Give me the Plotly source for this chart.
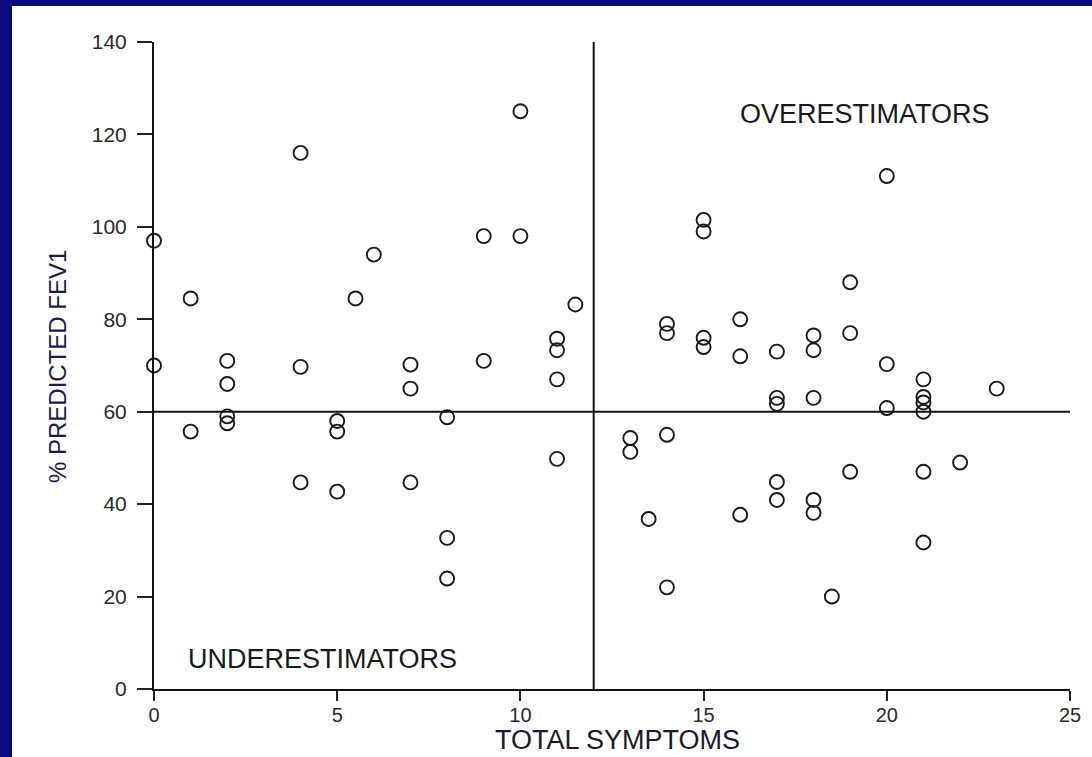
import plotly.graph_objects as go

# Data
total_symptoms = [
    0, 0,
    1, 1,
    2, 2, 2, 2,
    4, 4, 4,
    5, 5, 5,
    5.5,
    6,
    7, 7, 7,
    8, 8, 8,
    9, 9,
    10, 10,
    11, 11, 11, 11,
    11.5,
    13, 13,
    13.5,
    14, 14, 14, 14,
    15, 15, 15, 15,
    16, 16, 16,
    17, 17, 17, 17, 17,
    18, 18, 18, 18, 18,
    18.5,
    19, 19, 19,
    20, 20, 20,
    21, 21, 21, 21, 21, 21,
    22,
    23,
]
pct_predicted_fev1 = [
    97, 70,
    84.5, 55.7,
    71, 66, 59, 57.5,
    116, 69.7, 44.7,
    58, 55.7, 42.7,
    84.5,
    94,
    70.2, 65, 44.7,
    58.8, 32.7, 23.9,
    98, 71,
    125, 98,
    75.8, 73.3, 67, 49.8,
    83.2,
    54.3, 51.3,
    36.8,
    79, 77, 55, 22,
    101.5, 99, 76, 74,
    80, 72, 37.7,
    73, 63, 61.7, 44.8, 40.9,
    76.5, 73.3, 63, 40.9, 38.1,
    20,
    88, 77, 47,
    111, 70.3, 60.8,
    67, 63.2, 62, 60, 47, 31.7,
    49,
    65,
]

x_ticks = [0, 5, 10, 15, 20, 25]
y_ticks = [0, 20, 40, 60, 80, 100, 120, 140]
symptom_cutoff = 12
fev1_cutoff = 60

FONT = "Liberation Sans, Arial, sans-serif"
NAVY = "#0a0a7e"

fig = go.Figure()
fig.add_trace(go.Scatter(
    x=total_symptoms,
    y=pct_predicted_fev1,
    mode="markers",
    cliponaxis=False,
    marker=dict(symbol="circle-open", size=14, color="#1a1a1a",
                line=dict(width=1.9, color="#1a1a1a")),
    showlegend=False,
    hoverinfo="x+y",
))

# quadrant lines
fig.add_shape(type="line", xref="x", yref="y", x0=x_ticks[0], x1=x_ticks[-1],
              y0=fev1_cutoff, y1=fev1_cutoff, line=dict(color="#111", width=2))
fig.add_shape(type="line", xref="x", yref="y", x0=symptom_cutoff, x1=symptom_cutoff,
              y0=y_ticks[0], y1=y_ticks[-1], line=dict(color="#111", width=2))

# navy slide frame (left and top bands)
fig.add_shape(type="rect", xref="paper", yref="paper", x0=-0.2, x1=-0.1550,
              y0=-0.2, y1=1.2, fillcolor=NAVY, line=dict(width=0), layer="below")
fig.add_shape(type="rect", xref="paper", yref="paper", x0=-0.2, x1=1.2,
              y0=1.0557, y1=1.2, fillcolor=NAVY, line=dict(width=0), layer="below")

fig.add_annotation(text="OVERESTIMATORS", x=19.4, y=124.5, xref="x", yref="y",
                   showarrow=False, font=dict(family=FONT, size=27, color="#1a1a1a"))
fig.add_annotation(text="UNDERESTIMATORS", x=4.6, y=6.4, xref="x", yref="y",
                   showarrow=False, font=dict(family=FONT, size=27, color="#1a1a1a"))
fig.add_annotation(text="TOTAL SYMPTOMS", x=0.5055, y=-0.1051, xref="paper", yref="paper",
                   xanchor="center", yanchor="bottom",
                   showarrow=False, font=dict(family=FONT, size=27, color="#1a1a2e"))
fig.add_annotation(text="% PREDICTED FEV1", x=-0.1059, y=0.4992, xref="paper", yref="paper",
                   xanchor="center", yanchor="middle",
                   textangle=-90, showarrow=False,
                   font=dict(family=FONT, size=24, color="#1c1c48"))

fig.update_xaxes(range=[0, 25], tickvals=x_ticks, showgrid=False, zeroline=False,
                 showline=True, linecolor="#111", linewidth=2,
                 ticks="outside", ticklen=10, tickwidth=1.5, tickcolor="#222",
                 ticklabelstandoff=-3,
                 tickfont=dict(family=FONT, size=20, color="#2a2a2a"))
fig.update_yaxes(range=[0, 140], tickvals=y_ticks, showgrid=False, zeroline=False,
                 showline=True, linecolor="#111", linewidth=2,
                 ticks="outside", ticklen=15, tickwidth=1.5, tickcolor="#222",
                 ticklabelstandoff=6,
                 tickfont=dict(family=FONT, size=21, color="#2a2a2a"))

fig.update_layout(
    width=1092, height=757,
    margin=dict(l=154, r=22, t=42, b=68),
    paper_bgcolor="white",
    plot_bgcolor="white",
)

fig.write_html("out.html", config={"displayModeBar": False},
               post_script="document.body.style.margin='0';document.body.style.overflow='hidden';")
